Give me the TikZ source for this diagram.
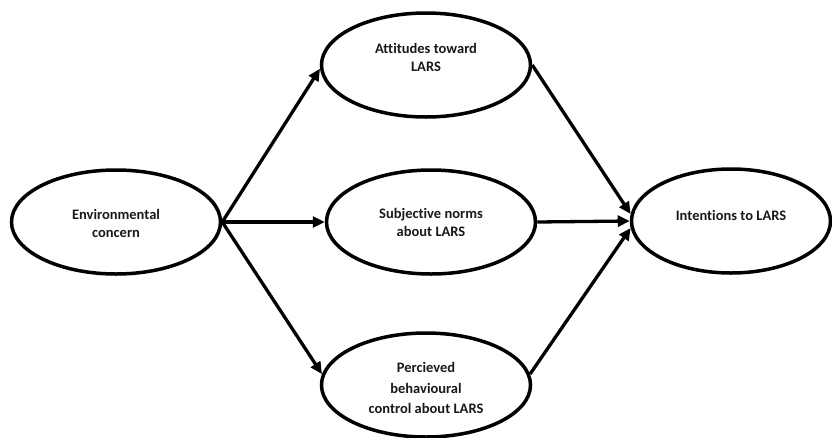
\documentclass[tikz,border=0pt]{standalone}
\usepackage{fontspec}
\setmainfont{Carlito}[Ligatures=CommonOff]
\usetikzlibrary{shapes.geometric,arrows.meta}
\begin{document}
\begin{tikzpicture}[x=1pt,y=-1pt,
  oval/.style={draw=black,line width=3.5pt,ellipse,inner sep=0pt,minimum width=209pt,minimum height=104pt},
  lbl/.style={font=\fontsize{14.5}{18}\selectfont\bfseries,align=center,text=black!90},
  conn/.style={line width=3.3pt,-{Triangle[length=12pt,width=11pt]}}]
\useasboundingbox (0,0) rectangle (832,437);
\node[oval] (env) at (116,222) {};
\node[oval] (att) at (426,65) {};
\node[oval] (sub) at (431,222) {};
\node[oval] (per) at (426,385) {};
\node[oval,minimum width=199pt] (int) at (731,221) {};
\node[lbl] (envt) at (116,223) {Environmental\\concern};
\node[lbl] (attt) at (426,57) {Attitudes toward\\LARS};
\node[lbl] (subt) at (431,222) {Subjective norms\\about LARS};
\node[lbl,font=\fontsize{14.5}{20.5}\selectfont\bfseries] (pert) at (426,388) {Percieved\\behavioural\\control about LARS};
\node[lbl] (intt) at (731,215) {Intentions to LARS};
\draw[conn] (env.east) -- (att.182);
\draw[conn] (env.east) -- (sub.west);
\draw[conn] (env.east) -- (per.174);
\draw[conn] (att.east) -- (int.176);
\draw[conn] (sub.east) -- (int.west);
\draw[conn] (per.6) -- (int.184);
\end{tikzpicture}
\end{document}
